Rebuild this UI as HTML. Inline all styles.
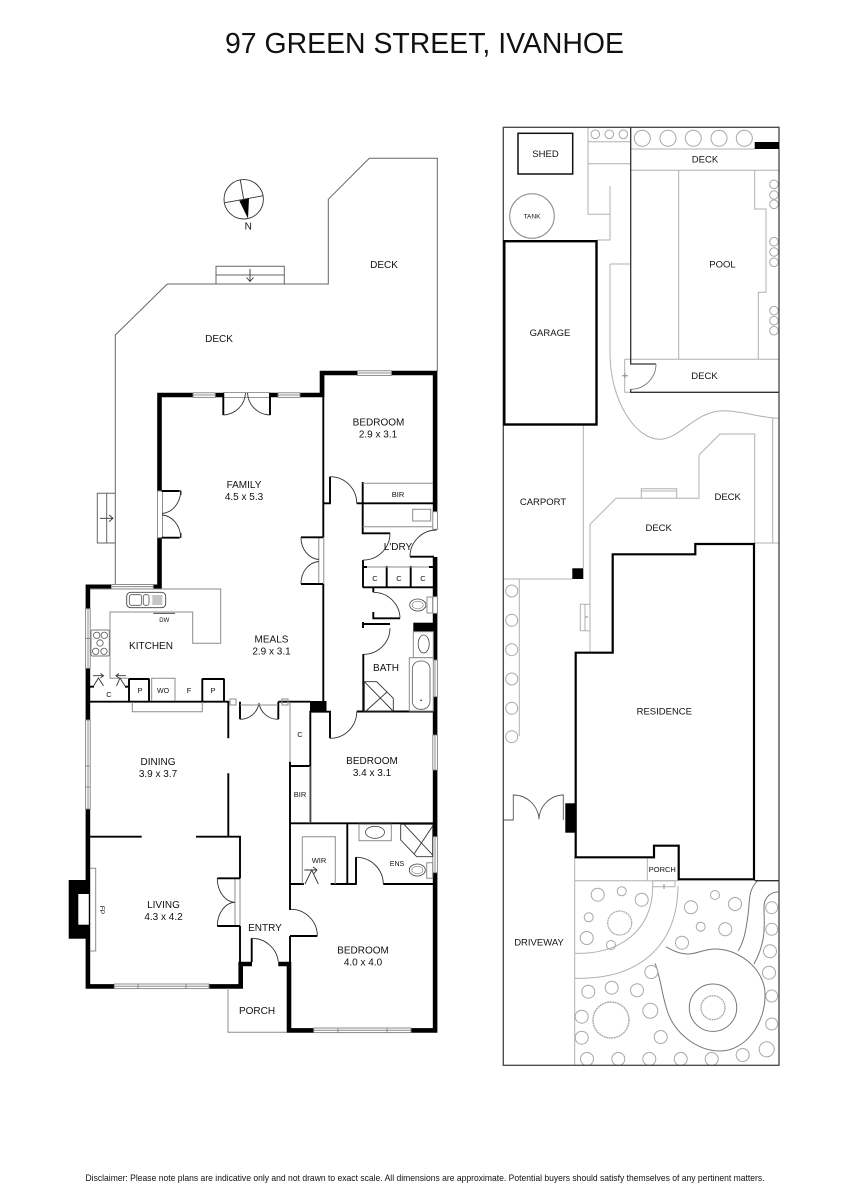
<!DOCTYPE html>
<html><head><meta charset="utf-8"><style>
html,body{margin:0;padding:0;background:#fff}
svg{display:block}
text{font-family:"Liberation Sans",sans-serif;fill:#111;text-anchor:middle}
.w{stroke:#000;stroke-width:4.6;fill:none}
.t{stroke:#000;stroke-width:1.9;fill:none}
.a{stroke:#333;stroke-width:.9;fill:none}
.g{stroke:#8c8c8c;stroke-width:1;fill:none}
.l{stroke:#b0b0b0;stroke-width:1;fill:none}
.win{stroke:#808080;stroke-width:.9;fill:#fff}
.s{font-size:10px}.xs{font-size:8px}.m{font-size:11px}
.r text{font-size:9.5px}
</style></head><body>
<svg width="848" height="1200" viewBox="0 0 848 1200" xmlns="http://www.w3.org/2000/svg">
<rect width="848" height="1200" fill="#fff"/>
<text x="424.5" y="53" font-size="29" textLength="399" lengthAdjust="spacingAndGlyphs">97 GREEN STREET, IVANHOE</text>
<text x="425" y="1181" font-size="9.5" textLength="679" lengthAdjust="spacingAndGlyphs">Disclaimer: Please note plans are indicative only and not drawn to exact scale. All dimensions are approximate. Potential buyers should satisfy themselves of any pertinent matters.</text>

<!-- LEFT: decks -->
<path class="g" style="stroke:#666" d="M115.3,585V335L167.3,284H328.3V199.3L369.3,158.3H437.3V371"/>
<path class="g" style="stroke:#666" d="M216,284V266.3H284.3V284M216,275H284.3"/>
<path class="a" d="M250,269V281M246.5,277.5L250,281.5L253.5,277.5"/>
<path class="g" style="stroke:#666" d="M115.3,493.3H97.3V543H115.3M106.7,493.3V543"/>
<path class="a" d="M100,518.3H112.7M109,515L113,518.3L109,521.6"/>
<!-- compass -->
<circle cx="243.7" cy="199.3" r="19.7" fill="none" stroke="#333" stroke-width=".9"/>
<path class="a" d="M240.3,180L243.7,199.3M263.3,195.7L243.7,199.3M225,202.7L243.7,199.3"/>
<path d="M239.3,200.7L249,198.3L248,218.5Z" fill="#000"/>
<text x="248.3" y="229.5" font-size="10">N</text>

<!-- outer walls -->
<path class="w" d="M159.5,491V395H193M215,395H223.5M270,395H278M300,395H322V373H435.1V511.7M435.1,557V596.7M435.1,613V660M435.1,696.7V735M435.1,770V836.7M435.1,872.7V1030.4H411M313.7,1030.4H289V964H278.3M252,964H240.7V986.4H209M114.3,986.4H87.9V880M87.9,809V880M87.9,720V668.3M87.9,608.7V586.8H111M153,586.8H161.8M159.5,537.7V589"/>
<!-- black blocks -->
<rect x="68.7" y="880" width="21" height="58.7" fill="#000"/>
<rect x="78.3" y="894" width="10.5" height="30.7" fill="#fff"/>
<rect x="310" y="701" width="16.5" height="10.7" fill="#000"/>
<rect x="413.3" y="622.7" width="23" height="9" fill="#000"/>

<!-- windows -->
<g class="win">
<rect x="193" y="392.8" width="22.3" height="4.6"/><rect x="278" y="392.8" width="22" height="4.6"/>
<rect x="357.5" y="370.8" width="34" height="4.6"/>
<rect x="111.7" y="584.5" width="41.6" height="4.4"/>
<rect x="85.6" y="608.7" width="4.6" height="59.6"/>
<rect x="85.6" y="720" width="4.6" height="89"/>
<rect x="114.3" y="984" width="94.7" height="4.6"/>
<rect x="313.7" y="1028" width="97.3" height="4.6"/>
<rect x="432.8" y="660" width="4.6" height="36.7"/>
<rect x="432.8" y="735" width="4.6" height="35"/>
<rect x="432.8" y="836.7" width="4.6" height="36"/>
<rect x="432.8" y="511.7" width="4.6" height="17.6"/>
<rect x="432.8" y="596.7" width="4.6" height="16.6"/>
<rect x="157.5" y="491" width="5" height="46.7"/>
<rect x="318.8" y="537.3" width="5" height="46.7"/>
<rect x="235" y="878.3" width="5" height="47.7"/>
</g>
<path class="g" d="M85.6,638.5H90.2M85.6,766H90.2M85.6,787H90.2M138,984V988.6M186,984V988.6M338,1028V1032.6M387,1028V1032.6M88,608.7V668.3M88,720V809M114,986.3H209M313.7,1030.3H411M193,395H215M278,395H300M357.5,373H391.5M111.7,586.6H153.3M435,660V696.7M435,735V770M435,836.7V872.7"/>
<rect x="223.3" y="392.5" width="46.7" height="5" fill="#fff" stroke="#808080" stroke-width=".8"/>

<!-- interior walls -->
<path class="t" d="M323.3,375V537.3M323.3,584V702M324,503.3H330V476.7M356.7,503.3H433M362.7,482V533.3H390M363,560V587.3M362.7,587.3H433M362.7,567H367M429,567H433M386.7,566V587.3M410.7,566V587.3M410,556.7H434M362.7,624H390M363,622V628M373.3,612V618.3H400M373.3,587.3V592.3M363.3,654V711M356.7,711.5H433M310,711.7H330V738.3M310.3,711V823.3M290,761.7V823.3M290,823.3H433M310,766H290M347.3,823V884M356,857V884M290.5,884H304M330.7,884H356.7M383.3,884H433M290,823V910M290,936V962M290,936H317.3M251.7,962V938.3M90,701.7H229M228.3,701V738.3M228.3,773.3V836.7M90,836.7H141.7M196,836.7H240V878.3M240,926V962M217.3,878.3H240M217.3,926H240M278.3,701.7H310M240,701.7V719.3M278.3,701.7V719.3M129,678.5V701M149,678.5V701M129,679H149M202.3,678.5V701M224,678.5V701M202.3,679H224M90,686.7H94M125,686.7H128.5M223.3,393V415M270,393V415M179.7,491H161.7M179.7,537.7H161.7M301,537.3H323M301,584H323" />
<path class="t" style="stroke-width:1.4" d="M180.7,490.5V495M180.7,533V538"/>

<!-- door arcs -->
<path class="a" d="M223.3,415A23,23 0 0 0 245.5,393M270,415A23,23 0 0 1 247.5,393M180.7,491A20,23 0 0 1 162,513.5M180.7,537.7A20,23 0 0 0 162,515M301,537.3A19,22 0 0 0 319,559.5M301,584A19,22 0 0 1 319,561.5M330,476.7A26.6,26.6 0 0 1 356.7,503.3M390,533.3A26.7,26.7 0 0 1 363.3,560M436.7,530A26.7,26.7 0 0 0 410,556.7M373.3,592.3A26.5,26.5 0 0 1 400,618.3M390,628.3A26.3,26.3 0 0 1 363.3,654.3M330,738.3A26.6,26.6 0 0 0 356.7,711.7M240,719.3A19,19 0 0 0 259,703M278.3,719.3A19,19 0 0 1 259,703M217.3,878.3A18,24 0 0 0 235,902.3M217.3,926A18,24 0 0 1 235,902.3M291,909.3A26.5,26.5 0 0 1 317.3,936M251.7,938.3A26.5,26.5 0 0 1 278.3,961.7M356,857.3A27,27 0 0 1 383.3,884"/>

<!-- fittings gray -->
<path class="g" d="M90,589H220.7V643.3H192.7V612H110V678.3H128.5M151.7,701V678.3H175V701M132.3,702V711.7H202.3V702M228,988V1032.3H287M90,868.3H95.7V951H90M290,702V761.7M310,766V823M362.7,483.3H433M362.7,526.7H433M240,705H278M230,699H236V705H230ZM282,699H288V705H282ZM302.3,884V836.7H335.3V884M367,567H429"/>
<rect x="412.7" y="509.3" width="18" height="11.7" fill="#fff" stroke="#8c8c8c"/>
<!-- sink -->
<rect x="126.7" y="592.3" width="39" height="15.4" rx="4" fill="#fff" stroke="#444" stroke-width=".9"/>
<rect x="129.3" y="594.7" width="12.4" height="10.6" rx="2" fill="#fff" stroke="#555" stroke-width=".8"/>
<rect x="143.3" y="594.7" width="5.7" height="10.6" rx="2" fill="#fff" stroke="#555" stroke-width=".8"/>
<path class="g" d="M152.3,596H162.3M152.3,598H162.3M152.3,600H162.3M152.3,602H162.3M152.3,604H162.3"/>
<path class="a" d="M153.3,613.3H175"/>
<!-- cooktop -->
<rect x="91" y="630" width="18.3" height="26" rx="1.5" fill="#fff" stroke="#777" stroke-width=".9"/>
<g fill="#fff" stroke="#555" stroke-width=".8"><circle cx="96.7" cy="635.3" r="3.2"/><circle cx="104.3" cy="635.3" r="3.2"/><circle cx="100" cy="643" r="3.2"/><circle cx="95.7" cy="651.3" r="3.2"/><circle cx="104" cy="651.3" r="3.2"/></g>
<!-- small stair arrows -->
<path class="a" d="M93.5,686L98.5,678L103.5,686M93,675.7H103M100.5,673.5L103.5,675.7L100.5,678M116.5,686L120,678L125,686M116.5,675.7H126M119,673.5L116,675.7L119,678M305,884L311.7,870L318.3,884M304.3,870H316.7M313,867L317,870L313.5,874"/>
<!-- bath -->
<rect x="413.3" y="631.7" width="20" height="26" fill="#fff" stroke="#8c8c8c"/>
<ellipse cx="423.7" cy="644" rx="5.5" ry="9" fill="none" stroke="#444" stroke-width=".8"/>
<rect x="409.3" y="657.7" width="24" height="53.3" fill="#fff" stroke="#8c8c8c"/>
<rect x="412.3" y="661" width="17.7" height="48.3" rx="8" fill="none" stroke="#555" stroke-width=".8"/>
<circle cx="421" cy="700.3" r=".8" fill="#222"/>
<path class="a" d="M364.3,681.7H376.7L393.3,698.3V711H364.3ZM364.3,681.7L393,711M366,711L387,692"/>
<ellipse cx="417.7" cy="605" rx="8" ry="6" fill="#fff" stroke="#444" stroke-width=".8"/>
<ellipse cx="417.7" cy="605" rx="5.5" ry="3.8" fill="none" stroke="#777" stroke-width=".6"/>
<path class="g" d="M425.7,602V608M427,597H432.7V613H427Z"/>
<!-- ensuite -->
<rect x="359" y="824.3" width="32.3" height="16.4" fill="none" stroke="#8c8c8c"/>
<ellipse cx="375" cy="832.3" rx="9.5" ry="6" fill="none" stroke="#444" stroke-width=".8"/>
<path class="a" d="M400.7,824.3H432.7V856.7H416.7L400.7,840ZM404,824.3L432.7,855M432.7,826L414,854"/>
<ellipse cx="417.3" cy="870" rx="8" ry="6" fill="#fff" stroke="#444" stroke-width=".8"/>
<ellipse cx="417.3" cy="870" rx="5.5" ry="3.8" fill="none" stroke="#777" stroke-width=".6"/>
<path class="g" d="M426.7,862.7H432.7V878.3H426.7Z"/>

<!-- labels left -->
<g font-size="10">
<text x="219" y="342">DECK</text><text x="384" y="268">DECK</text>
<text x="378.5" y="425.5">BEDROOM</text><text x="378" y="437.5">2.9 x 3.1</text>
<text x="244" y="488">FAMILY</text><text x="244" y="500">4.5 x 5.3</text>
<text x="398" y="550">L'DRY</text>
<text x="271.5" y="642.5">MEALS</text><text x="271.5" y="654.5">2.9 x 3.1</text>
<text x="151" y="649">KITCHEN</text>
<text x="386" y="671">BATH</text>
<text x="158" y="765">DINING</text><text x="158" y="777">3.9 x 3.7</text>
<text x="372" y="764">BEDROOM</text><text x="372" y="776">3.4 x 3.1</text>
<text x="163.5" y="908">LIVING</text><text x="163.5" y="920">4.3 x 4.2</text>
<text x="265" y="931">ENTRY</text>
<text x="363" y="953.5">BEDROOM</text><text x="363" y="965.5">4.0 x 4.0</text>
<text x="257" y="1014">PORCH</text>
</g>
<g>
<text x="398" y="497" font-size="7.5">BIR</text>
<text x="375" y="581" font-size="7.5">C</text><text x="399" y="581" font-size="7.5">C</text><text x="423" y="581" font-size="7.5">C</text>
<text x="109" y="697" font-size="7.5">C</text><text x="140" y="693" font-size="7.5">P</text><text x="163" y="693" font-size="7">WO</text><text x="189" y="693" font-size="7.5">F</text><text x="213" y="693" font-size="7.5">P</text>
<text x="164.3" y="622" font-size="6">DW</text>
<text x="300" y="737" font-size="7.5">C</text><text x="300" y="797" font-size="7.5">BIR</text>
<text x="319" y="863" font-size="7.5">WIR</text><text x="397" y="866" font-size="7">ENS</text>
<text x="100" y="910" font-size="6.5" transform="rotate(90 100 910)">FP</text>
</g>

<!-- RIGHT PLAN -->
<path class="l" d="M588,127.3V214.3H610M610,186V240H596.7M588,141.7H630.7M588,163.7H630.7M630.7,149H755M630.7,170.3H779M678.7,170.3V359.3M754.7,170.3V209H766V292.3H758.3V359.3M624.7,359.3H779M624.7,359.3V392.3H630.7M610,264H630.7M610,264V353C610,400 635,439.3 660,439.3C680,439.3 695,411 723,410.7C745,411 760,418 779,418.3M772.7,418V542.7M754.7,543H779M583.3,424.7V568M503.3,579H572.3M519.3,579V736M590,651.7V524.3L616,498.3H699V455L720,434H754.7V543.5M641.3,498.3V488.7H676.7V498.3M641.3,491H676.7M590,604.3H580.3V630.7H590M585,604.3V630.7M574.7,857V1065M574.7,880.7H678.7M647.3,857V880.7M574.7,953.3C620,955 652.7,930 652.7,886.7M574.7,978.3C645,980 678,940 678,886"/>
<path class="l" d="M652.7,880.7H675V886.7H652.7Z"/>
<path class="g" style="stroke:#777" d="M655,963.3C660,975 662,995 667,1010C674,1033 697,1051 720,1051C745,1051 766,1024 765,993C764,968 738,949 716,949C703,949 697,954 688,954C680,954 673,951 666,946.7M757.7,880.7C748,890 750,900 748,915C746,930 744,942 738,951M779,891.7C768,892 764,900 764,907C764,925 767,940 754,964"/>
<circle cx="713" cy="1007.7" r="23.7" fill="none" stroke="#777"/>
<g fill="none" stroke="#a8a8a8" stroke-width="1">
<circle cx="713" cy="1007.7" r="12" stroke-dasharray="2 .6" stroke-width="1.3"/>
<circle cx="611" cy="1020" r="18" stroke-dasharray="2 .6" stroke-width="1.4"/>
<circle cx="619.7" cy="923" r="12" stroke-dasharray="2 .6" stroke-width="1.2"/>
<circle cx="595.3" cy="134.3" r="4.3"/><circle cx="609.3" cy="134.3" r="4.3"/><circle cx="623.3" cy="134.3" r="4.3"/>
<circle cx="642.3" cy="138.3" r="8"/><circle cx="668" cy="138.3" r="8"/><circle cx="693.3" cy="138.3" r="8"/><circle cx="719" cy="138.3" r="8"/><circle cx="744.3" cy="138.3" r="8"/>
<circle cx="774" cy="184.3" r="4.3"/><circle cx="774" cy="195" r="4.3"/><circle cx="774" cy="204.3" r="4.3"/><circle cx="774" cy="241.7" r="4.3"/><circle cx="774" cy="252" r="4.3"/><circle cx="774" cy="262.3" r="4.3"/><circle cx="774" cy="310.7" r="4.3"/><circle cx="774" cy="320.7" r="4.3"/><circle cx="774" cy="330.7" r="4.3"/>
<circle cx="511.7" cy="591" r="6"/><circle cx="511.7" cy="620.3" r="6"/><circle cx="511.7" cy="649.7" r="6"/><circle cx="511.7" cy="679" r="6"/><circle cx="511.7" cy="708.3" r="6"/><circle cx="511.7" cy="736.7" r="6"/>
<circle cx="597.7" cy="894.7" r="6.5"/><circle cx="621.7" cy="891.3" r="4.5"/><circle cx="641.7" cy="899.7" r="6.5"/><circle cx="588.7" cy="917.3" r="4.5"/><circle cx="586.7" cy="938" r="6.5"/><circle cx="611" cy="945" r="4.5"/>
<circle cx="691" cy="907.3" r="6.5"/><circle cx="715" cy="895" r="4.5"/><circle cx="735" cy="904" r="6.5"/><circle cx="700.7" cy="926.7" r="4.5"/><circle cx="725.3" cy="929.3" r="6.5"/><circle cx="682" cy="942.7" r="6.5"/>
<circle cx="771.7" cy="907.7" r="6"/><circle cx="771.7" cy="929.3" r="6"/><circle cx="770" cy="951.3" r="6.5"/><circle cx="769" cy="972.7" r="6.5"/><circle cx="771.7" cy="996" r="6"/><circle cx="771.7" cy="1024" r="6"/><circle cx="766.7" cy="1049.3" r="7.5"/><circle cx="742.7" cy="1055" r="6.5"/>
<circle cx="711.7" cy="1059" r="6.5"/><circle cx="680.7" cy="1059" r="6.5"/><circle cx="649.3" cy="1059" r="6.5"/><circle cx="618.3" cy="1059" r="6.5"/><circle cx="587" cy="1059" r="6.5"/>
<circle cx="660.7" cy="1037" r="6.5"/><circle cx="650.3" cy="1010.7" r="7.5"/><circle cx="637" cy="990.3" r="6.5"/><circle cx="611.7" cy="987.7" r="6.5"/><circle cx="588.3" cy="991.7" r="6.5"/><circle cx="651.3" cy="972" r="6.5"/><circle cx="581.7" cy="1016.7" r="6.5"/><circle cx="581.7" cy="1037.7" r="6.5"/>
</g>
<circle cx="532" cy="216" r="22.3" fill="none" stroke="#888"/>
<!-- dark lines -->
<rect x="503.3" y="127.3" width="275.7" height="938" fill="none" stroke="#444" stroke-width="1.3"/>
<path d="M630.7,127.3V364H656M630.7,389V392.3H779M754.7,880.7H779" fill="none" stroke="#333" stroke-width="1.3"/>
<path d="M656,364A25.3,25.3 0 0 1 630.7,389.3" fill="none" stroke="#777" stroke-width=".9"/>
<path d="M503.3,820H513.3V795A25.7,25.7 0 0 1 539,819.3A25,25 0 0 1 563.3,795V820" fill="none" stroke="#555" stroke-width=".9"/>
<path d="M622,375.7H628M625,373V378M585,617H588M664,884V889" class="g"/>
<rect x="518" y="133.3" width="54.7" height="40.7" fill="none" stroke="#111" stroke-width="1.5"/>
<rect x="504.3" y="241.2" width="92.2" height="183.3" fill="#fff" stroke="#000" stroke-width="2.4"/>
<path d="M575.7,652.7H612.7V554.3H695.3V544H754V879.3H678.7V845.7H654V857.3H575.7Z" fill="#fff" stroke="#000" stroke-width="2.2"/>
<rect x="754.7" y="142" width="24.3" height="7" fill="#000"/>
<rect x="572.3" y="568.3" width="11" height="10.7" fill="#000"/>
<rect x="565.3" y="803.3" width="10.4" height="29.4" fill="#000"/>
<!-- labels right -->
<g class="r">
<text x="545.5" y="157">SHED</text>
<text x="705" y="162.5">DECK</text>
<text x="722.5" y="267.5">POOL</text>
<text x="550" y="336">GARAGE</text>
<text x="704.5" y="379">DECK</text>
<text x="543" y="505">CARPORT</text>
<text x="727.7" y="500">DECK</text>
<text x="658.7" y="531">DECK</text>
<text x="664.3" y="714.5">RESIDENCE</text>
<text x="539" y="945.5">DRIVEWAY</text>
</g>
<text x="532" y="218.5" font-size="6.5">TANK</text>
<text x="662.3" y="872" font-size="7.5">PORCH</text>
</svg>
</body></html>
